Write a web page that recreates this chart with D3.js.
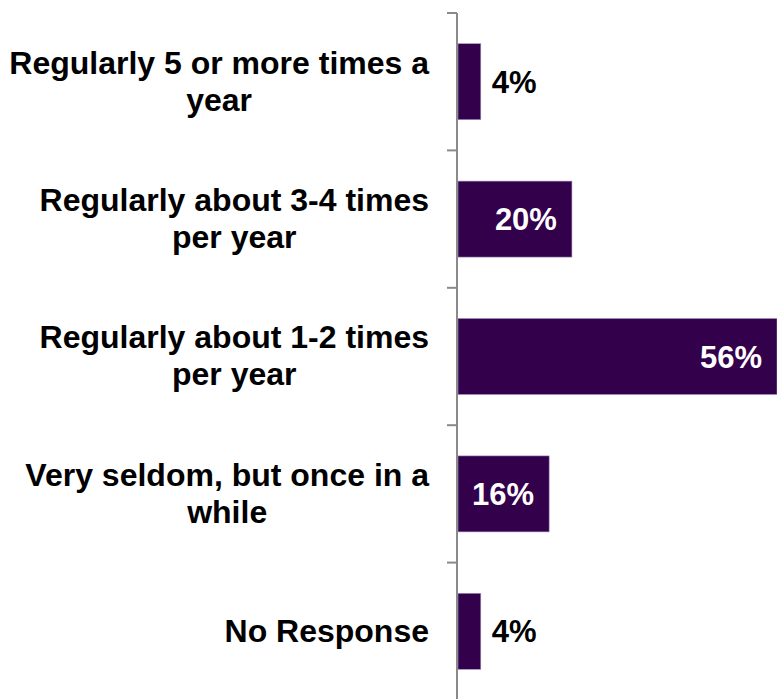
<!DOCTYPE html>
<html>
<head>
<meta charset="utf-8">
<script src="https://cdn.jsdelivr.net/npm/d3@7/dist/d3.min.js"></script>
<style>
  html, body { margin: 0; padding: 0; background: #fff; }
  svg { display: block; font-family: "Liberation Sans", Arial, Helvetica, sans-serif; }
</style>
</head>
<body>
<svg id="chart" width="777" height="699"></svg>
<script>
// Survey answers (label lines) and their shares in percent
const categories = [
  ["Regularly 5 or more times a", "year"],
  ["Regularly about 3-4 times", "per year"],
  ["Regularly about 1-2 times", "per year"],
  ["Very seldom, but once in a", "while"],
  ["No Response"]
];
const values = [4, 20, 56, 16, 4];
const valueLabels = ["4%", "20%", "56%", "16%", "4%"];
// Labels of small bars sit outside the bar end
const labelOutside = [true, false, false, false, true];

const svg = d3.select("#chart");
const H = 699;
const axisX = 457;
const barColor = "#33004c";

const keys = categories.map((c, i) => i);

const y = d3.scaleBand()
  .domain(keys)
  .range([13, 700])
  .paddingInner(0.447)
  .paddingOuter(0.2235);

const x = d3.scaleLinear()
  .domain([0, 56])
  .range([458, 777]);

// Bars
svg.append("g").selectAll("rect")
  .data(values)
  .join("rect")
  .attr("x", x(0))
  .attr("y", (d, i) => y(i))
  .attr("width", d => x(d) - x(0))
  .attr("height", y.bandwidth())
  .attr("fill", barColor)
  .attr("stroke", "#a48fba")
  .attr("stroke-width", 0.6);

// Category axis: vertical line with ticks on the band boundaries
const axisG = svg.append("g");
axisG.append("line")
  .attr("x1", axisX).attr("x2", axisX)
  .attr("y1", y.range()[0]).attr("y2", H)
  .attr("stroke", "#8a8a8a").attr("stroke-width", 2);

const boundaries = d3.range(keys.length + 1).map(i => y.range()[0] + i * y.step());
axisG.selectAll("line.tick")
  .data(boundaries)
  .join("line")
  .attr("class", "tick")
  .attr("x1", axisX - 10).attr("x2", axisX)
  .attr("y1", d => d).attr("y2", d => d)
  .attr("stroke", "#8a8a8a").attr("stroke-width", 2);

// Category labels: a centred text block whose right edge sits left of the axis
const labelRight = 429;
const fontSize = 32;
const lineH = 37;
const capHalf = fontSize * 0.716 / 2;

const labels = svg.append("g")
  .attr("font-size", fontSize)
  .attr("font-weight", "bold")
  .attr("fill", "#000");

categories.forEach((lines, i) => {
  const cy = y(i) + y.bandwidth() / 2 - 1;
  const t = labels.append("text").attr("text-anchor", "middle");
  const spans = lines.map((ln, j) =>
    t.append("tspan")
      .attr("y", cy + capHalf + (j - (lines.length - 1) / 2) * lineH)
      .text(ln)
  );
  const maxW = d3.max(spans, s => s.node().getComputedTextLength());
  spans.forEach(s => s.attr("x", labelRight - maxW / 2));
});

// Value labels
svg.append("g")
  .attr("font-size", 31)
  .attr("font-weight", "bold")
  .selectAll("text")
  .data(values)
  .join("text")
  .attr("x", (d, i) => labelOutside[i] ? x(d) + 11 : x(d) - 15)
  .attr("y", (d, i) => y(i) + y.bandwidth() / 2 + 31 * 0.716 / 2)
  .attr("text-anchor", (d, i) => labelOutside[i] ? "start" : "end")
  .attr("fill", (d, i) => labelOutside[i] ? "#000" : "#fff")
  .text((d, i) => valueLabels[i]);
</script>
</body>
</html>
